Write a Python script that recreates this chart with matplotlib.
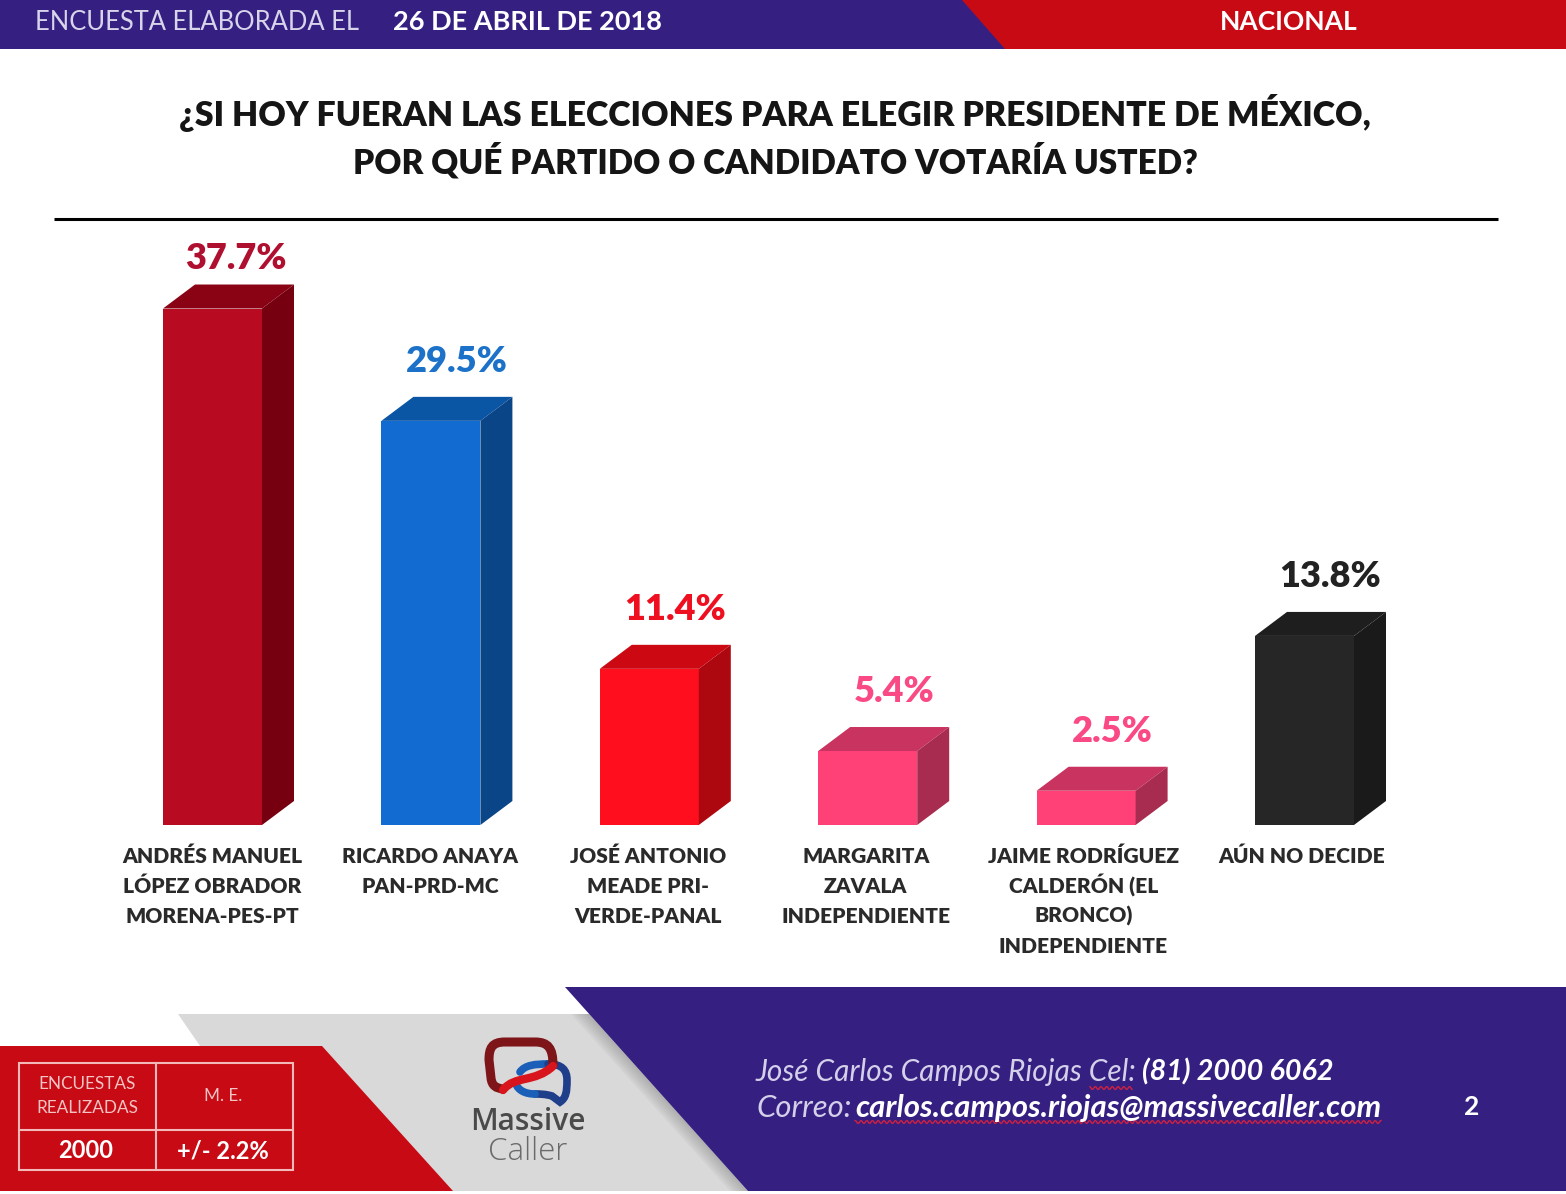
import numpy as np
import matplotlib
matplotlib.use("Agg")
import matplotlib.pyplot as plt
from matplotlib.patches import PathPatch, Polygon, Rectangle
from matplotlib.path import Path

# chart data
candidates = [
    "ANDRÉS MANUEL\nLÓPEZ OBRADOR\nMORENA-PES-PT",
    "RICARDO ANAYA\nPAN-PRD-MC",
    "JOSÉ ANTONIO\nMEADE PRI-\nVERDE-PANAL",
    "MARGARITA\nZAVALA\nINDEPENDIENTE",
    "JAIME RODRÍGUEZ\nCALDERÓN (EL\nBRONCO)\nINDEPENDIENTE",
    "AÚN NO DECIDE",
]
votes = [37.7, 29.5, 11.4, 5.4, 2.5, 13.8]
front_colors = ["#B80A20", "#116BD0", "#FF0F1E", "#FF4178", "#FF4178", "#262626"]
top_colors = ["#8A0315", "#0B55A5", "#CC0812", "#C9335F", "#C9335F", "#1E1E1E"]
side_colors = ["#760010", "#0A4588", "#AD0710", "#A82B50", "#A82B50", "#1A1A1A"]
label_colors = ["#B01030", "#1B72C8", "#EE1020", "#FA4A85", "#FA4A85", "#222222"]

W, H = 1566, 1194
PURPLE = "#352082"
RED = "#C80A14"
FONT = "Lato"

plt.rcParams["font.family"] = [FONT, "DejaVu Sans"]

fig = plt.figure(figsize=(W / 100, H / 100), dpi=100)


def px_axes(left, top, right, bottom):
    return fig.add_axes([left / W, 1 - bottom / H, (right - left) / W, (bottom - top) / H])


def stroke(target, codes_pts, color, lw):
    # codes_pts: first point, then runs of 1 (line) or 3 (curve) points
    verts = [codes_pts[0]]
    codes = [Path.MOVETO]
    for run in codes_pts[1:]:
        verts.extend(run)
        codes.extend([Path.LINETO] if len(run) == 1 else [Path.CURVE4] * 3)
    target.add_patch(PathPatch(Path(verts, codes), fill=False, ec=color, lw=lw, capstyle="round"))


# page furniture, in pixel coordinates
bg = fig.add_axes([0, 0, 1, 1], zorder=0)
bg.set_xlim(0, W)
bg.set_ylim(H, 0)
bg.axis("off")

bg.add_patch(Rectangle((0, 0), W, 49, color=RED, lw=0))
bg.add_patch(Polygon([(0, 0), (962, 0), (1005, 49), (0, 49)], color=PURPLE, lw=0))
bg.text(35, 22, "ENCUESTA ELABORADA EL", color="#D8D4EA", fontsize=18.4, va="center")
bg.text(393, 22, "26 DE ABRIL DE 2018", color="white", fontsize=19.5, weight="bold", va="center")
bg.text(1289, 22, "NACIONAL", color="white", fontsize=19, weight="bold", va="center", ha="center")

bg.text(775, 113, "¿SI HOY FUERAN LAS ELECCIONES PARA ELEGIR PRESIDENTE DE MÉXICO,",
        fontsize=24.4, weight="heavy", color="#151515", ha="center", va="center")
bg.text(775, 161, "POR QUÉ PARTIDO O CANDIDATO VOTARÍA USTED?",
        fontsize=24.05, weight="heavy", color="#151515", ha="center", va="center")
bg.plot([54, 1498], [219, 219], color="black", lw=2.2, solid_capstyle="butt")

# footer shapes
bg.add_patch(Polygon([(178, 1014), (600, 1014), (760, 1191), (300, 1191)], color="#D9D9D9", lw=0))
for i in range(6):
    s = 3 + i * 3
    bg.add_patch(Polygon([(589 - s, 1014), (589, 1014), (748, 1191), (748 - s, 1191)],
                         color="#707070", alpha=0.07, lw=0))
bg.add_patch(Polygon([(565, 987), (W, 987), (W, 1191), (748, 1191)], color=PURPLE, lw=0))
bg.add_patch(Polygon([(0, 1046), (322, 1046), (453, 1191), (0, 1191)], color=RED, lw=0))

# survey box
box_c = "#F3B9B9"
bg.add_patch(Rectangle((19, 1063), 274, 107, fill=False, ec=box_c, lw=1.5))
bg.plot([156, 156], [1063, 1170], color=box_c, lw=1.5)
bg.plot([19, 293], [1130, 1130], color=box_c, lw=1.5)
bg.text(87, 1084, "ENCUESTAS", color="#F2C4C4", fontsize=12.3, ha="center", va="center")
bg.text(87, 1108, "REALIZADAS", color="#F2C4C4", fontsize=12.3, ha="center", va="center")
bg.text(223, 1096, "M. E.", color="#F2C4C4", fontsize=12.3, ha="center", va="center")
bg.text(86, 1151, "2000", color="white", fontsize=17, weight="bold", ha="center", va="center")
bg.text(223, 1151, "+/- 2.2%", color="white", fontsize=17, weight="bold", ha="center", va="center")

# logo
stroke(bg, [(520, 1072), [(525, 1065), (535, 1064), (548, 1064)]], "#1B5FB8", 5.5)
stroke(bg, [(548, 1064), [(562, 1064), (567, 1070), (567, 1080)],
            [(567, 1092), (566, 1098), (560, 1102)], [(552, 1096)],
            [(545, 1094), (540, 1094), (535, 1094)]], "#1F3F8A", 5.5)
stroke(bg, [(535, 1094), [(525, 1094), (518, 1090), (516, 1084)]], "#1B5FB8", 5.5)
stroke(bg, [(553, 1065), [(553, 1048), (548, 1042), (535, 1042)], [(505, 1042)],
            [(492, 1042), (489, 1048), (489, 1060)], [(491, 1078)],
            [(492, 1086), (496, 1088), (503, 1089)]], "#7E1518", 6.5)
stroke(bg, [(503, 1090), [(515, 1075), (535, 1083), (553, 1066)]], "#D8141C", 6)
bg.text(528, 1122, "Massive", color="#4A4A4A", fontsize=21.5, family="Open Sans",
        weight="semibold", ha="center", va="center")
bg.text(528, 1152, "Caller", color="#6A6A6A", fontsize=22.5, family="Open Sans",
        weight="light", ha="center", va="center")

# contact block
contact = "#D5D0EA"
bg.text(756, 1072, "José Carlos Campos Riojas Cel:", color=contact, fontsize=21.4, style="italic", va="center")
bg.text(1142, 1072, "(81) 2000 6062", color="white", fontsize=20.7, style="italic", weight="bold", va="center")
bg.text(756, 1108, "Correo:", color=contact, fontsize=22.3, style="italic", va="center")
bg.text(855, 1108, "carlos.campos.riojas@massivecaller.com", color="white", fontsize=22.4,
        style="italic", weight="bold", va="center")
bg.text(1472, 1107, "2", color="white", fontsize=19, weight="bold", ha="center", va="center")

# spell-check squiggles
for x0, x1, y in [(1090, 1133, 1088), (855, 1382, 1122)]:
    xs = np.arange(x0, x1, 1.0)
    bg.plot(xs, y + 1.5 * np.sin(xs * 1.1), color="#D02040", lw=1)

# bars, drawn through a value axis
PX_PER_PCT = 13.7
PX_PER_CAT = 218.4
FIRST_CENTER = 212.5
BAR_PX = 99
DEPTH_X = 32 / PX_PER_CAT
DEPTH_Y = 24 / PX_PER_PCT

ax = px_axes(54, 220, 1498, 825)
ax.set_zorder(1)
ax.patch.set_alpha(0)
ax.set_xlim((54 - FIRST_CENTER) / PX_PER_CAT, (1498 - FIRST_CENTER) / PX_PER_CAT)
ax.set_ylim(0, (825 - 220) / PX_PER_PCT)

positions = np.arange(len(votes))
half = BAR_PX / PX_PER_CAT / 2
ax.bar(positions, votes, width=2 * half, color=front_colors, lw=0)
for x, v, tc, sc, lc in zip(positions, votes, top_colors, side_colors, label_colors):
    ax.add_patch(Polygon([(x - half, v), (x + half, v), (x + half + DEPTH_X, v + DEPTH_Y),
                          (x - half + DEPTH_X, v + DEPTH_Y)], color=tc, lw=0))
    ax.add_patch(Polygon([(x + half, 0), (x + half + DEPTH_X, DEPTH_Y),
                          (x + half + DEPTH_X, v + DEPTH_Y), (x + half, v)], color=sc, lw=0))
    # the tallest label sits closer to its bar, it would hit the rule otherwise
    lift, shift = (40, 23.5) if x == 0 else (49, 26)
    ax.annotate(f"{v}%", (x, v), xytext=(shift, lift), textcoords="offset pixels",
                ha="center", va="baseline", color=lc, fontsize=26, weight="heavy")

# category labels, line by line so the parenthesis does not stretch the spacing
ax.set_xticks(positions, [""] * len(positions))
ax.set_yticks([])
ax.tick_params(axis="x", length=0)
for x, name in zip(positions, candidates):
    for j, line in enumerate(name.split("\n")):
        ax.annotate(line, (x, 0), xytext=(-0.65 * x, -38 - 30 * j), textcoords="offset pixels",
                    ha="center", va="baseline", fontsize=15.1, weight="heavy", color="#2A2A2A")
for sp in ax.spines.values():
    sp.set_visible(False)

fig.savefig("out.png", dpi=100, facecolor="white")
